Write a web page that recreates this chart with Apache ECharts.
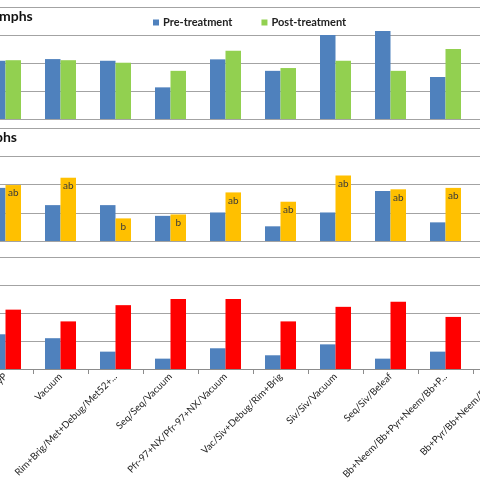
<!DOCTYPE html>
<html>
<head>
<meta charset="utf-8">
<script src="https://cdn.jsdelivr.net/npm/echarts@6/dist/echarts.min.js"></script>
<style>
html,body{margin:0;padding:0;width:480px;height:480px;overflow:hidden;background:#fff;position:relative;}
#c{position:absolute;left:-22px;top:0;width:550px;height:480px;}
</style>
</head>
<body>
<div id="c"></div>
<script>
const categories = ["Bb+Pyr/Bb+PyP","Vacuum","Rim+Brig/Met+Debug/Met52+...","Seq/Seq/Vacuum","Pfr-97+NX/Pfr-97+NX/Vacuum","Vac/Siv+Debug/Rim+Brig","Siv/Siv/Vacuum","Seq/Siv/Beleaf","Bb+Neem/Bb+Pyr+Neem/Bb+P...","Bb+Pyr/Bb+Neem/Bb+P..."];
const pre1  = [10.4,10.7,10.4,5.65,10.65,8.6,15.0,15.7,7.5,null];
const post1 = [10.5,10.5,10.05,8.6,12.2,9.1,10.4,8.6,12.5,null];
const pre2  = [9.4,6.35,6.35,4.45,5.05,2.6,5.05,8.85,3.3,null];
const post2 = [9.9,11.2,4.0,4.7,8.6,6.95,11.6,9.15,9.4,null];
const letters2 = ["ab","ab","b","b","ab","ab","ab","ab","ab",""];
const pre3  = [6.2,5.5,3.1,1.85,3.7,2.45,4.4,1.85,3.1,null];
const post3 = [10.6,8.5,11.4,12.5,12.5,8.5,11.1,12.0,9.3,null];
const yMax = 20, yInterval = 5;
const panelTitles = ["mphs","phs"];

const FONT = 'Lato';
const gridColor = '#a3a3a3';
const grids = [
  {left:0,right:0,top:7,height:112,containLabel:false,outerBoundsMode:'none'},
  {left:0,right:0,top:128,height:113,containLabel:false,outerBoundsMode:'none'},
  {left:0,right:0,top:257,height:112,containLabel:false,outerBoundsMode:'none'}
];
const xAxes = grids.map((g,i)=>({
  type:'category', gridIndex:i, data:categories, boundaryGap:true,
  show: i===2,
  axisLine:{show:true,lineStyle:{color:'#8c8c8c',width:1}},
  axisTick:{show:true,length:5,lineStyle:{color:'#8c8c8c'}},
  axisLabel:{show:true,interval:0,rotate:45,margin:6,align:'right',verticalAlign:'middle',
    fontFamily:FONT,fontSize:9.7,color:'#222'}
}));
const yAxes = grids.map((g,i)=>({
  type:'value', gridIndex:i, min:0, max:yMax, interval:yInterval,
  axisLabel:{show:false}, axisLine:{show:false}, axisTick:{show:false},
  splitLine:{show:true,lineStyle:{color:gridColor,width:1}}
}));
const barW = 15.5;
function bar(name, data, idx, color, extra){
  return Object.assign({type:'bar', name, data, xAxisIndex:idx, yAxisIndex:idx,
    barWidth:barW, barGap:'0%', itemStyle:{color}, animation:false}, extra||{});
}
const series = [
  bar('Pre-treatment', pre1, 0, '#4f81bd'),
  bar('Post-treatment', post1, 0, '#92d050'),
  bar('Pre-treatment ', pre2, 1, '#4f81bd'),
  bar('Post-treatment ', post2, 1, '#ffc000', {label:{show:true,position:'insideTop',distance:3,
     formatter:p=>letters2[p.dataIndex]||'',fontFamily:FONT,fontSize:10,color:'#3a3a3a'}}),
  bar('Pre-treatment  ', pre3, 2, '#4f81bd'),
  bar('Post-treatment  ', post3, 2, '#ff0000')
];
const chart = echarts.init(document.getElementById('c'), null, {renderer:'canvas'});
chart.setOption({
  animation:false,
  grid:grids, xAxis:xAxes, yAxis:yAxes, series,
  legend:{data:['Pre-treatment','Post-treatment'], left:170, top:12, icon:'rect',
    itemWidth:6, itemHeight:6, itemGap:29,
    textStyle:{fontFamily:FONT,fontWeight:'bold',fontSize:11,color:'#222',padding:[0,0,0,-1]}},
  graphic:[
    {type:'text',left:21,top:9,style:{text:panelTitles[0],font:'bold 14px Lato',fill:'#111'}},
    {type:'text',left:17,top:130,style:{text:panelTitles[1],font:'bold 14px Lato',fill:'#111'}}
  ]
});
</script>
</body>
</html>
